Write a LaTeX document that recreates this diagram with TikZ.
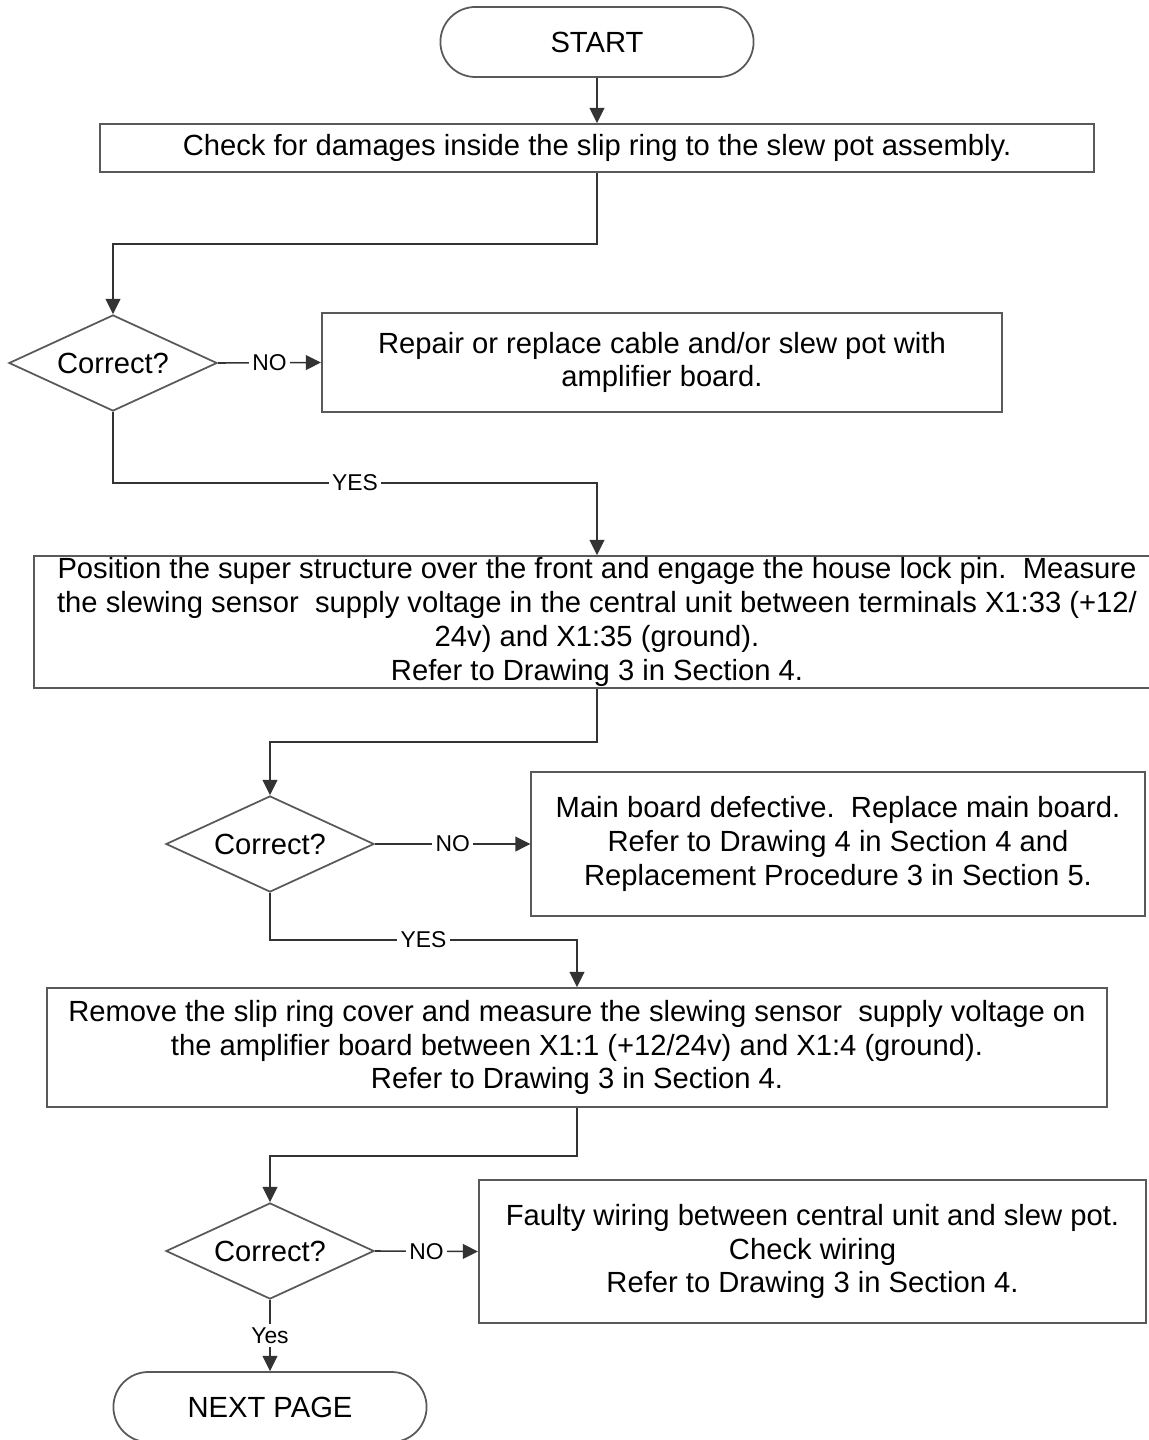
\documentclass[tikz,border=0pt]{standalone}
\usepackage{fontspec}
\setmainfont{Liberation Sans}
\usetikzlibrary{shapes.geometric,arrows.meta}
\pgfkeys{tikz/flowbox/.style={rectangle, draw=black!65, line width=0.5pt,
                                  align=center, inner sep=0pt,
                                  font=\fontsize{8.3}{9.6}\selectfont}}
\pgfkeys{tikz/flowterm/.style={flowbox, rounded corners=0.35cm,
                                  minimum width=3.13cm, minimum height=0.7cm}}
\pgfkeys{tikz/flowdec/.style={diamond, aspect=2.2, draw=black!65, line width=0.5pt,
                                  inner sep=0pt, minimum width=2.08cm, minimum height=0.96cm,
                                  font=\fontsize{8.3}{9.6}\selectfont}}
\pgfkeys{tikz/flowlbl/.style={fill=white, inner sep=1pt,
                                  font=\fontsize{6.5}{7.5}\selectfont}}
\pgfkeys{tikz/flowarr/.style={draw=black!80, line width=0.45pt,
                                  -{Triangle[length=4.3pt,width=4.2pt]}}}

\begin{document}
\begin{tikzpicture}[x=0.01cm, y=-0.01cm]
            \useasboundingbox (0,0) rectangle (1149,1440);

            \node[flowterm] (start) at (597,42) {START};
            \node[flowbox, minimum width=9.94cm, minimum height=0.48cm] (check) at (597,148)
                {Check for damages inside the slip ring to the slew pot assembly.};

                    \draw[flowarr] (start) -- (check);

            \node[flowdec] (dec1) at (113,363) {Correct?};
                    \node[flowbox, minimum width=6.8cm, minimum height=0.99cm] (repair) at (662,362.5)
                        {Repair or replace cable and/or slew pot with\\amplifier board.};

                    \coordinate (b1) at (597,244);
                    \draw[flowarr] (check.south) -- (b1) -| (dec1.north);
                    \draw[flowarr] (dec1.east) -- node[flowlbl] {NO} (repair.west);

            \node[flowbox, minimum width=11.26cm, minimum height=1.32cm] (position) at (597,622)
                {Position the super structure over the front and engage the house lock pin.\ \ Measure\\
                 the slewing sensor\ \ supply voltage in the central unit between terminals X1:33 (+12/\\
                 24v) and X1:35 (ground).\\
                 Refer to Drawing 3 in Section 4.};

                    \coordinate (y1) at (597,483);
                    \draw[flowarr] (dec1.south) |- node[flowlbl, pos=0.75] {YES} (y1) -- (position.north);

            \node[flowdec] (dec2) at (270,844) {Correct?};
                    \node[flowbox, minimum width=6.13cm, minimum height=1.44cm] (mainb) at (838,844)
                        {Main board defective.\ \ Replace main board.\\
                         Refer to Drawing 4 in Section 4 and\\
                         Replacement Procedure 3 in Section 5.};

                    \coordinate (b2) at (597,742);
                    \draw[flowarr] (position.south) -- (b2) -| (dec2.north);
                    \draw[flowarr] (dec2.east) -- node[flowlbl] {NO} (mainb.west);

            \node[flowbox, minimum width=10.59cm, minimum height=1.19cm] (remove) at (577,1047.5)
                {Remove the slip ring cover and measure the slewing sensor\ \ supply voltage on\\
                 the amplifier board between X1:1 (+12/24v) and X1:4 (ground).\\
                 Refer to Drawing 3 in Section 4.};

                    \coordinate (y2) at (577,940);
                    \draw[flowarr] (dec2.south) |- node[flowlbl, pos=0.75] {YES} (y2) -- (remove.north);

            \node[flowdec] (dec3) at (270,1251) {Correct?};
                    \node[flowbox, minimum width=6.67cm, minimum height=1.43cm] (faulty) at (812.5,1251.5)
                        {Faulty wiring between central unit and slew pot.\\
                         Check wiring\\
                         Refer to Drawing 3 in Section 4.};

                    \coordinate (b3) at (577,1156);
                    \draw[flowarr] (remove.south) -- (b3) -| (dec3.north);
                    \draw[flowarr] (dec3.east) -- node[flowlbl] {NO} (faulty.west);

            \node[flowterm] (nextp) at (270,1407) {NEXT PAGE};

                    \draw[flowarr] (dec3.south) -- node[flowlbl] {Yes} (nextp.north);
\end{tikzpicture}
\end{document}
